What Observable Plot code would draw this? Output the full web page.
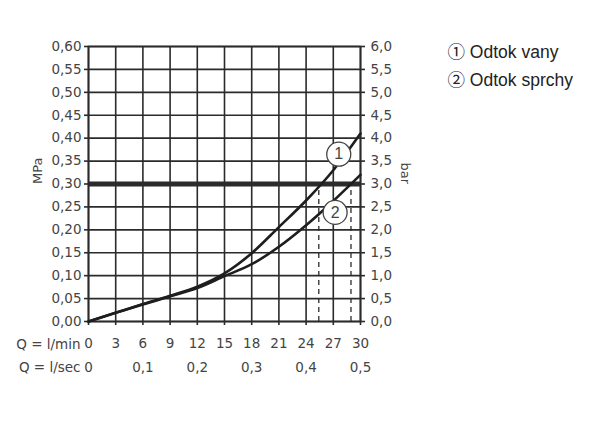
<!DOCTYPE html>
<html>
<head>
<meta charset="utf-8">
<script src="https://cdn.jsdelivr.net/npm/d3@7"></script>
<script src="https://cdn.jsdelivr.net/npm/@observablehq/plot@0.6"></script>
<style>
  html, body { margin: 0; padding: 0; background: #fff; }
  #chart svg { display: block; }
</style>
</head>
<body>
<div id="chart"></div>
<script>
// Flow rate (l/min) and pressure (MPa) readings
const flowQ = [0, 3, 6, 9, 12, 15, 18, 21, 24, 27, 30];
const vanyMPa = [0, 0.019, 0.038, 0.056, 0.076, 0.105, 0.149, 0.206, 0.264, 0.33, 0.41];
const sprchyMPa = [0, 0.019, 0.037, 0.055, 0.073, 0.099, 0.125, 0.163, 0.21, 0.263, 0.32];

// Axis ticks
const mpaTicks = [0, 0.05, 0.10, 0.15, 0.20, 0.25, 0.30, 0.35, 0.40, 0.45, 0.50, 0.55, 0.60];
const minTicks = [0, 3, 6, 9, 12, 15, 18, 21, 24, 27, 30];
const secTickPos = [0, 6, 12, 18, 24, 30];
const secTickLabels = ["0", "0,1", "0,2", "0,3", "0,4", "0,5"];

// Reference line, crossing points, curve markers
const limitMPa = 0.30;
const crossQ = [25.4, 28.95];
const markerLabels = ["1", "2"];
const markerQ = [27.6, 27.2];
const markerMPa = [0.365, 0.238];
const legendLabels = ["\u2460 Odtok vany", "\u2461 Odtok sprchy"];

const series = [
  ...flowQ.map((q, i) => ({q, p: vanyMPa[i], s: "1"})),
  ...flowQ.map((q, i) => ({q, p: sprchyMPa[i], s: "2"}))
];
const markers = markerLabels.map((t, i) => ({t, q: markerQ[i], p: markerMPa[i]}));

const ink = "#2b2b2b";
const txt = "#444";
const font = "DejaVu Sans, sans-serif";
const legendFont = "Liberation Sans, Noto Sans CJK SC, sans-serif";
const comma = (d, n) => d.toFixed(n).replace(".", ",");

const chart = Plot.plot({
  width: 600,
  height: 427,
  marginLeft: 88,
  marginRight: 240,
  marginTop: 46,
  marginBottom: 106,
  style: {fontFamily: font, fontSize: "13px", color: txt, background: "#fff"},
  x: {domain: [0, 30]},
  y: {domain: [0, 0.6]},
  marks: [
    Plot.gridX(minTicks, {stroke: ink, strokeOpacity: 1, strokeWidth: 1.6}),
    Plot.gridY(mpaTicks, {stroke: ink, strokeOpacity: 1, strokeWidth: 1.6}),
    Plot.frame({stroke: ink, strokeWidth: 1.8}),
    Plot.axisY({ticks: mpaTicks, tickFormat: d => comma(d, 2), tickSize: 4, tickPadding: 3,
      stroke: ink, strokeWidth: 1.6, fill: txt, fontSize: 13.5, label: null}),
    Plot.axisY({anchor: "right", ticks: mpaTicks, tickFormat: d => comma(d * 10, 1), tickSize: 4, tickPadding: 6,
      stroke: ink, strokeWidth: 1.6, fill: txt, fontSize: 13.5, label: null}),
    Plot.axisX({ticks: minTicks, tickFormat: d => String(d), tickSize: 4, tickPadding: 13,
      stroke: ink, strokeWidth: 1.6, fill: txt, fontSize: 13.5, label: null}),
    Plot.text(secTickPos, {x: d => d, y: () => 0, text: (d, i) => secTickLabels[i], dy: 46,
      fill: txt, fontSize: 13.5, clip: false}),
    Plot.text(["Q = l/min"], {frameAnchor: "bottom-left", lineAnchor: "middle", dx: -8, dy: 23, textAnchor: "end", fill: txt, fontSize: 13.5}),
    Plot.text(["Q = l/sec"], {frameAnchor: "bottom-left", lineAnchor: "middle", dx: -8, dy: 46, textAnchor: "end", fill: txt, fontSize: 13.5}),
    Plot.text(["MPa"], {frameAnchor: "left", dx: -51, rotate: -90, fill: txt, fontSize: 13}),
    Plot.text(["bar"], {frameAnchor: "right", dx: 45, rotate: 90, fill: txt, fontSize: 13}),
    Plot.ruleY([limitMPa], {stroke: ink, strokeWidth: 5}),
    Plot.ruleX(crossQ, {y1: 0, y2: limitMPa, stroke: ink, strokeWidth: 1.3, strokeDasharray: "5,4"}),
    Plot.line(series, {x: "q", y: "p", z: "s", curve: "monotone-x", stroke: "#1e1e1e", strokeWidth: 2.6}),
    Plot.dot(markers, {x: "q", y: "p", r: 12, fill: "#fff", stroke: "#444", strokeWidth: 1.3}),
    Plot.text(markers, {x: "q", y: "p", text: "t", fill: txt, fontSize: 16, fontFamily: "Liberation Sans, sans-serif"}),
    Plot.text([legendLabels[0]], {frameAnchor: "top-right", lineAnchor: "middle", dx: 87, dy: 6, textAnchor: "start",
      fill: "#222", fontSize: 17.5, fontFamily: legendFont}),
    Plot.text([legendLabels[1]], {frameAnchor: "top-right", lineAnchor: "middle", dx: 87, dy: 34, textAnchor: "start",
      fill: "#222", fontSize: 17.5, fontFamily: legendFont})
  ]
});
document.getElementById("chart").appendChild(chart);
</script>
</body>
</html>
